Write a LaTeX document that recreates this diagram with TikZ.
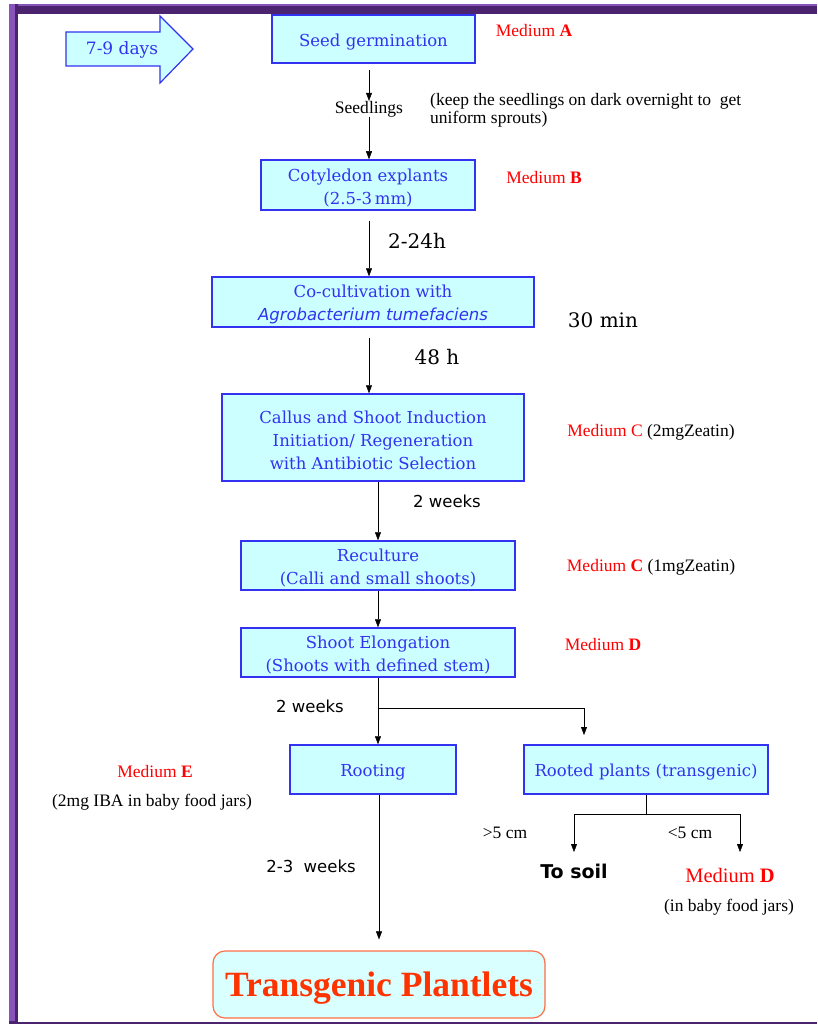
\documentclass[tikz,border=0pt]{standalone}
\usepackage{fontspec}
\setmainfont{Liberation Serif}
\newfontfamily\boxfont{DejaVu Serif}
\newfontfamily\labelfont{DejaVu Sans}
\usetikzlibrary{arrows.meta,calc}
\definecolor{cellcyan}{RGB}{204,255,255}
\definecolor{cellblue}{RGB}{50,50,240}
\definecolor{mediumred}{RGB}{255,0,0}
\definecolor{plantorange}{RGB}{255,51,0}
\definecolor{plantborder}{RGB}{255,110,70}
\definecolor{framedark}{RGB}{75,35,110}
\definecolor{framelight}{RGB}{135,85,185}
\newcommand{\Med}[1]{\textcolor{mediumred}{Medium~#1}}
\newcommand{\Lift}{\rule{0pt}{18pt}}

\begin{document}
\begin{tikzpicture}[x=1pt,y=-1pt,
    >={Triangle[length=8pt,width=6pt]},
    stepbox/.style={draw=cellblue,line width=1.5pt,fill=cellcyan,text=cellblue,
      align=center,inner sep=0pt,font=\boxfont\fontsize{16.5}{23}\selectfont},
    note/.style={inner sep=0pt,font=\fontsize{17.5}{18}\selectfont},
    timing/.style={inner sep=0pt,font=\boxfont\fontsize{20}{22}\selectfont},
    weeks/.style={inner sep=0pt,font=\labelfont\fontsize{16.5}{18}\selectfont}]
  \useasboundingbox (0,0) rectangle (817,1024);
  % Frame
  \fill[framedark] (9,4) rectangle (817,14);
  \fill[framelight] (9,4) rectangle (817,6);
  \fill[framedark] (9,4) rectangle (17.5,1024);
  \fill[framelight] (9,4) rectangle (15,1021);
  \fill[framedark] (9,1021.5) rectangle (817,1024);
  % Days arrow
  \draw[cellblue,line width=1.2pt,fill=cellcyan]
    (66,32) -- (160,32) -- (160,16) -- (193,49) -- (160,83) -- (160,66) -- (66,66) -- cycle;
  \node[text=cellblue,inner sep=0pt,font=\boxfont\fontsize{17}{20}\selectfont] (days) at (122,50) {7-9 days};
  % Main steps
  \node[stepbox,minimum width=203pt,minimum height=48pt] (germ) at (373.5,39) {\Lift Seed germination};
  \node[note] (seedl) at (369,109) {Seedlings};
  \node[stepbox,minimum width=214pt,minimum height=50pt] (cot) at (368,185) {\Lift Cotyledon explants\\(2.5-3\,mm)};
  \node[stepbox,minimum width=322pt,minimum height=50pt] (cocult) at (373,302)
    {\Lift Co-cultivation with\\{\labelfont\itshape Agrobacterium tumefaciens}};
  \node[stepbox,minimum width=302pt,minimum height=87pt] (callus) at (373,437.5)
    {\Lift Callus and Shoot Induction\\Initiation/ Regeneration\\with Antibiotic Selection};
  \node[stepbox,minimum width=274pt,minimum height=49pt] (recult) at (378,565.5)
    {\Lift Reculture\\(Calli and small shoots)};
  \node[stepbox,minimum width=274pt,minimum height=49pt] (elong) at (378,652.5)
    {\Lift Shoot Elongation\\(Shoots with defined stem)};
  \node[stepbox,minimum width=166pt,minimum height=49pt] (rooting) at (373,769.5) {\Lift Rooting};
  \node[stepbox,minimum width=244pt,minimum height=49pt] (rooted) at (646,769.5) {\Lift Rooted plants (transgenic)};
  \node[draw=plantborder,line width=1.2pt,fill=cellcyan!75!white,rounded corners=12pt,
    minimum width=332pt,minimum height=67pt,text=plantorange,inner sep=0pt,
    font=\bfseries\fontsize{35.5}{38}\selectfont] (plantlets) at (379,984.5) {\rule{0pt}{32pt}Transgenic Plantlets};
  % Media and notes
  \node[note] (medA) at (534,31) {\Med{\textbf{A}}};
  \node[note,anchor=west,align=left] (keep) at (430,110)
    {(keep the seedlings on dark overnight to~ get\\uniform sprouts)};
  \node[note] (medB) at (544,178) {\Med{\textbf{B}}};
  \node[note] (medC1) at (651,432) {\Med{C} (2mgZeatin)};
  \node[note] (medC2) at (651,567) {\Med{\textbf{C}} (1mgZeatin)};
  \node[note] (medD1) at (603,645) {\Med{\textbf{D}}};
  \node[note] (medE) at (155,772) {\Med{\textbf{E}}};
  \node[note] (iba) at (152,802) {(2mg IBA in baby food jars)};
  \node[note,font=\fontsize{20.5}{22}\selectfont] (medD2) at (730,875) {\Med{\textbf{D}}};
  \node[note] (jars) at (729,907) {(in baby food jars)};
  \node[inner sep=0pt,font=\labelfont\bfseries\fontsize{19}{21}\selectfont] (soil) at (574,871) {To soil};
  % Timings
  \node[timing] (t1) at (417,241) {2-24h};
  \node[timing] (t2) at (603,320) {30 min};
  \node[timing] (t3) at (437,357) {48 h};
  \node[weeks] (w1) at (447,501) {2 weeks};
  \node[weeks] (w2) at (310,706) {2 weeks};
  \node[weeks] (w3) at (311,866) {2-3~ weeks};
  \node[note] (big) at (505,833) {>5 cm};
  \node[note] (small) at (690,833) {<5 cm};
  % Branch ends
  \coordinate (rootedTip) at (584,735);
  \coordinate (soilTip) at (574,852);
  \coordinate (jarTip) at (740,852);
  % Connectors
  \draw[->,shorten <=6pt] (germ.south -| seedl.north) -- (seedl.north);
  \draw[->] (seedl.south) -- (cot.north -| seedl.south);
  \draw[->,shorten <=10pt] (cot.south -| seedl.south) -- (cocult.north -| seedl.south);
  \draw[->,shorten <=10pt] (cocult.south -| seedl.south) -- (callus.north -| seedl.south);
  \draw[->] (callus.south -| recult.north) -- (recult.north);
  \draw[->] (recult.south) -- (elong.north);
  \draw[->] (elong.south) -- (rooting.north -| elong.south);
  \draw[->] (elong.south) ++(0,30) -| (rootedTip);
  \draw (rooted.south) -- ++(0,19) coordinate (split);
  \draw[->] (split) -| (soilTip);
  \draw[->] (split) -| (jarTip);
  \draw[->,shorten >=11pt] (rooting.south -| plantlets.north) -- (plantlets.north);
\end{tikzpicture}
\end{document}
